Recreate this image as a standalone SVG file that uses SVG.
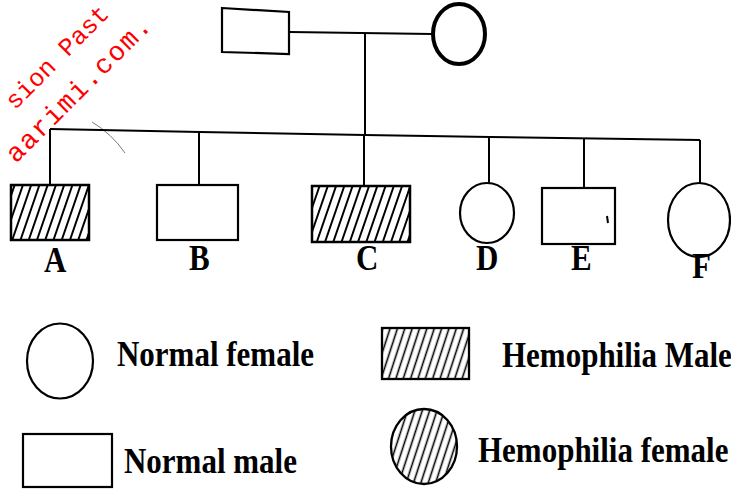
<svg xmlns="http://www.w3.org/2000/svg" width="731" height="491" viewBox="0 0 731 491">
<defs>
<pattern id="hatch" patternUnits="userSpaceOnUse" width="7.8" height="10" patternTransform="rotate(19)">
<line x1="3.9" y1="-2" x2="3.9" y2="12" stroke="#000" stroke-width="2"/>
</pattern>
<pattern id="hatch2" patternUnits="userSpaceOnUse" width="7" height="10" patternTransform="rotate(18)">
<line x1="3.5" y1="-2" x2="3.5" y2="12" stroke="#000" stroke-width="1.6"/>
</pattern>
</defs>
<style>
.sh{fill:#fff;stroke:#000;stroke-width:2.2}
.ht{fill:url(#hatch);stroke:#000;stroke-width:2.5}
.ht2{fill:url(#hatch2);stroke:#000;stroke-width:2.3}
.ln{stroke:#000;stroke-width:2;fill:none}
.lb{font-family:"Liberation Serif","Times New Roman",serif;font-weight:bold;fill:#000}
.wm{font-family:"Liberation Mono","Courier New",monospace;fill:#ff0000}
</style>
<rect width="731" height="491" fill="#fff"/>
<g id="watermark">
<text class="wm" font-size="25" transform="translate(15,110.5) rotate(-45)">sion Past</text>
<text class="wm" font-size="27" letter-spacing="1.5" transform="translate(16,164) rotate(-45)">aarimi.com.</text>
</g>
<path d="M92,122 Q112,134 125,153" stroke="#777" stroke-width="1" fill="none"/>
<g id="connectors">
<polyline class="ln" points="290,32 432,34"/>
<polyline class="ln" points="365,34 365,135"/>
<polyline class="ln" points="50,129 200,132 365,135 490,137 700,140"/>
<polyline class="ln" points="50,129 50,185"/>
<polyline class="ln" points="199,132 199,185"/>
<polyline class="ln" points="364,135 364,186"/>
<polyline class="ln" points="489,137 489,183"/>
<polyline class="ln" points="584,139 584,188"/>
<polyline class="ln" points="700,140 700,183"/>
</g>
<g id="father"><polygon class="sh" points="222,8 289,12 289,54 222,52"/></g>
<g id="mother"><ellipse cx="459" cy="34" rx="26" ry="30" fill="#fff" stroke="#000" stroke-width="4"/></g>
<g id="A"><rect class="ht" x="11" y="185" width="78" height="55"/>
<text class="lb" font-size="31" transform="translate(44,272) scale(1,1.18)">A</text></g>
<g id="B"><rect class="sh" x="157" y="185" width="81" height="55"/>
<text class="lb" font-size="31" transform="translate(189,270) scale(1,1.18)">B</text></g>
<g id="C"><rect class="ht" x="312" y="186" width="98" height="56"/>
<text class="lb" font-size="31" transform="translate(356,270) scale(1,1.18)">C</text></g>
<g id="D"><ellipse class="sh" cx="487" cy="213" rx="27" ry="30"/>
<text class="lb" font-size="31" transform="translate(476,270) scale(1,1.18)">D</text></g>
<g id="E"><rect class="sh" x="542" y="188" width="73" height="56"/>
<path d="M607,216 l1,7" stroke="#000" stroke-width="2"/>
<text class="lb" font-size="31" transform="translate(571,270) scale(1,1.18)">E</text></g>
<g id="F"><ellipse class="sh" cx="699" cy="220" rx="31" ry="37"/>
<text class="lb" font-size="31" transform="translate(692,278) scale(1,1.18)">F</text></g>
<g id="legend-normal-female"><ellipse class="sh" cx="60" cy="361" rx="33" ry="37.5"/>
<text class="lb" font-size="31" transform="translate(117,366) scale(1,1.17)">Normal female</text></g>
<g id="legend-hemophilia-male"><rect class="ht2" x="382" y="328" width="87" height="51"/>
<text class="lb" font-size="31" transform="translate(502,367) scale(1,1.17)">Hemophilia Male</text></g>
<g id="legend-normal-male"><rect class="sh" x="23" y="434" width="89" height="53"/>
<text class="lb" font-size="31" transform="translate(124,473) scale(1,1.17)">Normal male</text></g>
<g id="legend-hemophilia-female"><ellipse class="ht2" cx="424" cy="446.5" rx="33" ry="37.5"/>
<text class="lb" font-size="31" transform="translate(478,462) scale(1,1.17)">Hemophilia female</text></g>
</svg>
